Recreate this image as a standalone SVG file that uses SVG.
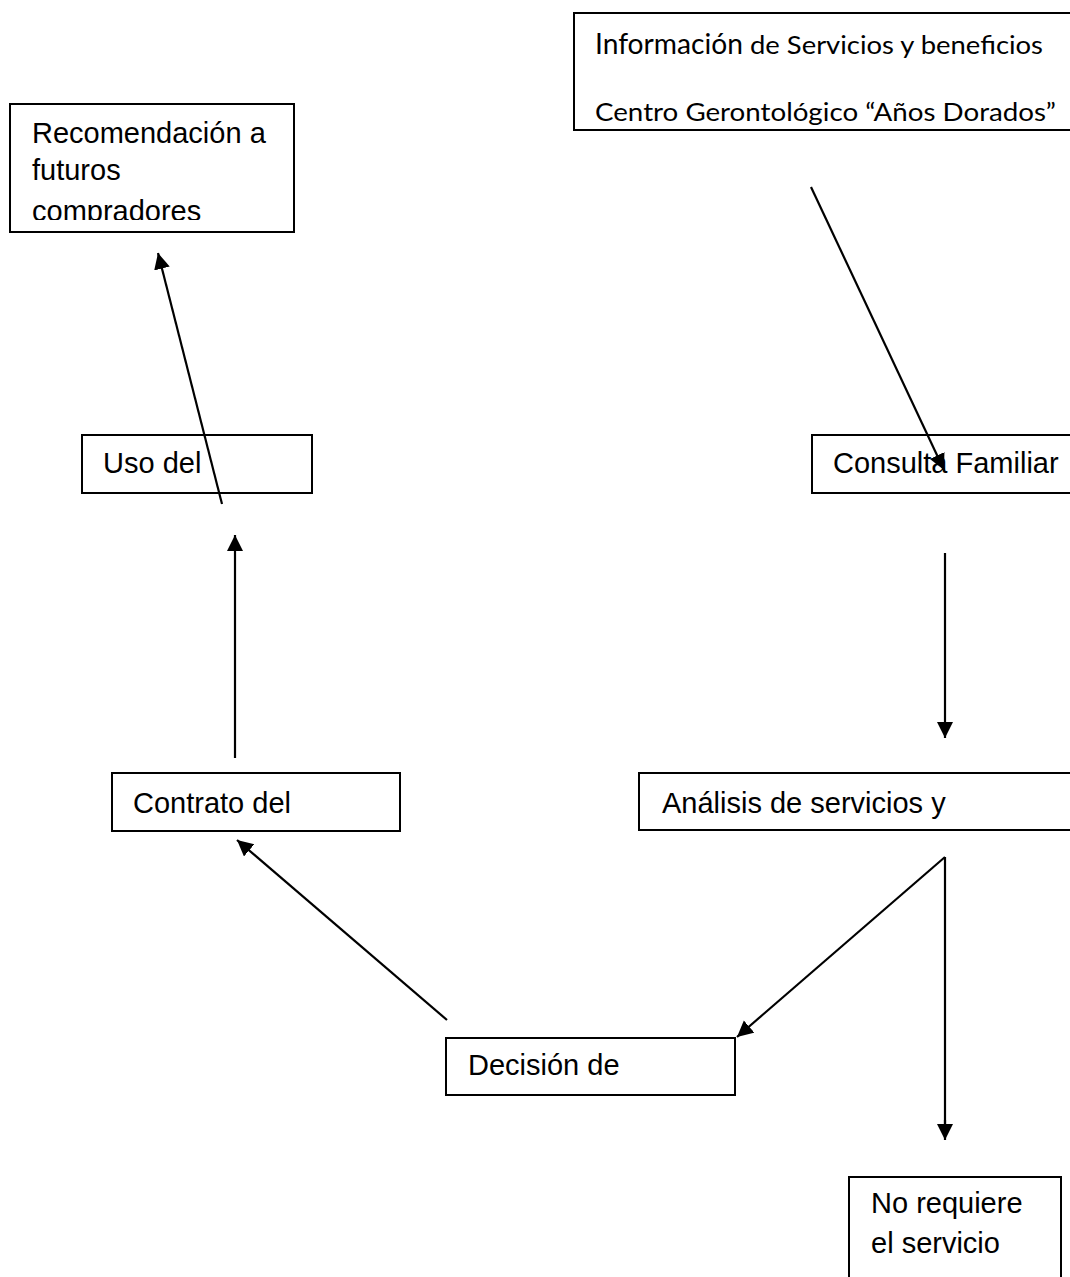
<svg xmlns="http://www.w3.org/2000/svg" width="1070" height="1277" viewBox="0 0 1070 1277">
<style>
.box{fill:#fff;stroke:#000;stroke-width:2}
.t{font-family:"Liberation Sans",Arial,sans-serif;font-size:29px;fill:#000}
.c{font-family:Lato,"Open Sans",sans-serif;fill:#000}
.ln{stroke:#000;stroke-width:2.2;fill:none;marker-end:url(#ah)}
.pl{stroke:#000;stroke-width:2.2;fill:none}
</style>
<defs>
<marker id="ah" markerWidth="18" markerHeight="18" refX="16" refY="8" orient="auto" markerUnits="userSpaceOnUse">
<path d="M0,0 L16,8 L0,16 Z" fill="#000"/>
</marker>
<clipPath id="clipRec"><rect x="0" y="0" width="300" height="220"/></clipPath>
</defs>
<rect width="1070" height="1277" fill="#fff"/>

<g id="node-info">
<rect class="box" x="574" y="13" width="500" height="117"/>
<text class="c" x="595" y="54"><tspan font-size="29" textLength="148" lengthAdjust="spacingAndGlyphs">Información</tspan><tspan font-size="25" textLength="300" lengthAdjust="spacingAndGlyphs"> de Servicios y beneficios</tspan></text>
<text class="c" x="595" y="121" font-size="25" textLength="461" lengthAdjust="spacingAndGlyphs">Centro Gerontológico “Años Dorados”</text>
</g>

<g id="node-recomendacion">
<rect class="box" x="10" y="104" width="284" height="128"/>
<g clip-path="url(#clipRec)">
<text class="t" x="32" y="143">Recomendación a</text>
<text class="t" x="32" y="180">futuros</text>
<text class="t" x="32" y="221">compradores</text>
</g>
</g>

<g id="node-uso">
<rect class="box" x="82" y="435" width="230" height="58"/>
<text class="t" x="103" y="473">Uso del</text>
</g>

<g id="node-consulta">
<rect class="box" x="812" y="435" width="300" height="58"/>
<text class="t" x="833" y="473">Consulta Familiar</text>
</g>

<g id="node-contrato">
<rect class="box" x="112" y="773" width="288" height="58"/>
<text class="t" x="133" y="813">Contrato del</text>
</g>

<g id="node-analisis">
<rect class="box" x="639" y="773" width="500" height="57"/>
<text class="t" x="662" y="813">Análisis de servicios y</text>
</g>

<g id="node-decision">
<rect class="box" x="446" y="1038" width="289" height="57"/>
<text class="t" x="468" y="1075">Decisión de</text>
</g>

<g id="node-norequiere">
<rect class="box" x="849" y="1177" width="212" height="140"/>
<text class="t" x="871" y="1213">No requiere</text>
<text class="t" x="871" y="1253">el servicio</text>
</g>

<g id="connectors">
<line class="ln" x1="811" y1="187" x2="944" y2="470"/>
<line class="ln" x1="945" y1="553" x2="945" y2="738"/>
<polyline class="pl" points="945,857 945,1125"/>
<line class="ln" x1="945" y1="1120" x2="945" y2="1140"/>
<line class="ln" x1="945" y1="857" x2="737" y2="1037"/>
<line class="ln" x1="447" y1="1020" x2="237" y2="840"/>
<line class="ln" x1="235" y1="758" x2="235" y2="535"/>
<line class="ln" x1="222" y1="504" x2="158" y2="253"/>
</g>
</svg>
